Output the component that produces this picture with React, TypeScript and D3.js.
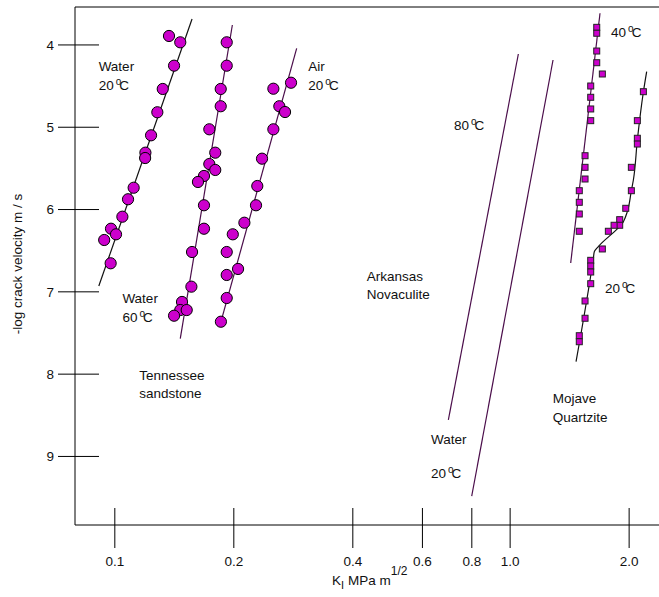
import React from 'react';
import * as d3 from 'd3';

// Tennessee sandstone (circles) [K, -log v]
const water20 = [
  [0.1371, 3.891], [0.1464, 3.968], [0.1412, 4.252], [0.1322, 4.535], [0.1281, 4.818],
  [0.1235, 5.098], [0.1195, 5.309], [0.1193, 5.374], [0.1116, 5.735], [0.108, 5.875],
  [0.1045, 6.087], [0.0978, 6.233], [0.1007, 6.301], [0.094, 6.37], [0.0976, 6.653],
];
const water60 = [
  [0.1919, 3.968], [0.1919, 4.252], [0.1853, 4.535], [0.1853, 4.745], [0.1734, 5.025],
  [0.1795, 5.309], [0.1734, 5.447], [0.1795, 5.519], [0.1681, 5.592], [0.1623, 5.665],
  [0.1681, 5.948], [0.1681, 6.233], [0.1568, 6.516], [0.1562, 6.937], [0.1479, 7.123],
  [0.1464, 7.221], [0.152, 7.221], [0.1412, 7.29],
];
const air20 = [
  [0.2791, 4.459], [0.2518, 4.532], [0.2607, 4.745], [0.2695, 4.815], [0.2518, 5.025],
  [0.2357, 5.382], [0.2293, 5.714], [0.2276, 5.948], [0.2127, 6.16], [0.1988, 6.301],
  [0.1919, 6.516], [0.205, 6.722], [0.1919, 6.795], [0.1919, 7.075], [0.1855, 7.363],
];

// Mojave quartzite (squares)
const mojave40 = [
  [1.656, 3.786], [1.656, 3.858], [1.656, 4.074], [1.656, 4.216], [1.711, 4.353],
  [1.599, 4.499], [1.599, 4.636], [1.599, 4.778], [1.599, 4.92], [1.547, 5.346],
  [1.547, 5.487], [1.547, 5.629], [1.496, 5.771], [1.496, 5.912], [1.496, 6.054],
  [1.496, 6.264],
];
const mojave20 = [
  [2.173, 4.568], [2.098, 4.92], [2.098, 5.134], [2.098, 5.204], [2.026, 5.487],
  [2.026, 5.771], [1.961, 5.985], [1.893, 6.123], [1.893, 6.191], [1.832, 6.191],
  [1.772, 6.264], [1.711, 6.479], [1.599, 6.617], [1.599, 6.686], [1.599, 6.759],
  [1.599, 6.901], [1.547, 7.111], [1.547, 7.321], [1.496, 7.533], [1.496, 7.606],
];
const mojave20Curve = [
  [2.215, 4.325], [2.173, 4.572], [2.098, 5.155], [2.05, 5.641], [2.026, 5.771],
  [1.979, 6.026], [1.934, 6.148], [1.671, 6.451], [1.633, 6.512], [1.624, 6.592],
  [1.468, 7.849],
];

// fitted straight lines
const fitLines = [
  { pts: [[0.1568, 3.684], [0.0911, 6.929]], color: '#111' },
  { pts: [[0.1983, 3.758], [0.1464, 7.569]], color: '#4a0d4a' },
  { pts: [[0.2884, 4.041], [0.1855, 7.366]], color: '#4a0d4a' },
  { pts: [[1.049, 4.11], [0.6978, 8.557]], color: '#4a0d4a' },
  { pts: [[1.284, 4.183], [0.7995, 9.481]], color: '#4a0d4a' },
  { pts: [[1.688, 3.615], [1.423, 6.649]], color: '#4a0d4a' },
];

const labels = [
  { k: 0.091, v: 4.317, lines: ['Water', '20|C'] },
  { k: 0.3086, v: 4.317, lines: ['Air', '20|C'] },
  { k: 0.1045, v: 7.136, lines: ['Water', '60|C'] },
  { k: 0.1153, v: 8.071, lines: ['Tennessee', 'sandstone'] },
  { k: 0.7212, v: 5.033, lines: ['80|C'] },
  { k: 0.4337, v: 6.868, lines: ['Arkansas', 'Novaculite'] },
  { k: 0.6308, v: 8.849, lines: ['Water'] },
  { k: 0.6308, v: 9.262, lines: ['20|C'] },
  { k: 1.282, v: 8.351, lines: ['Mojave', 'Quartzite'] },
  { k: 1.8, v: 3.903, lines: ['40|C'] },
  { k: 1.738, v: 7.014, lines: ['20|C'] },
];

const yTicks = [4, 5, 6, 7, 8, 9];
const xTicks = [0.1, 0.2, 0.4, 0.6, 0.8, 1.0, 2.0];
const xTickLabels = ['0.1', '0.2', '0.4', '0.6', '0.8', '1.0', '2.0'];

const W = 659, H = 597;
const left = 75, top = 7, bottom = 525;
const font = '"Liberation Sans", Arial, sans-serif';
const magenta = '#cc00cc';

function Label({ text, x, y }: { text: string; x: number; y: number }) {
  if (text.indexOf('|') < 0) return <text x={x} y={y}>{text}</text>;
  const [num, unit] = text.split('|');
  return (
    <text x={x} y={y}>
      {num}
      <tspan dx={2} dy={-5} fontSize={10}>o</tspan>
      <tspan dx={-2} dy={5}>{unit}</tspan>
    </text>
  );
}

export default function App() {
  const x = d3.scaleLog().domain([0.0793, 2.38]).range([left, W]);
  const y = d3.scaleLinear().domain([3.539, 9.833]).range([top, bottom]);

  const line = d3.line<number[]>().x(d => x(d[0])).y(d => y(d[1]));
  const curve = d3.line<number[]>().x(d => x(d[0])).y(d => y(d[1])).curve(d3.curveMonotoneY);

  return (
    <svg width={W} height={H} style={{ position: 'absolute', left: 0, top: 0, background: '#fff' }}
      fontFamily={font} fontSize={13.5} fill="#111">
      {/* frame */}
      <line x1={left} x2={W} y1={top} y2={top} stroke="#000" />
      <line x1={left} x2={left} y1={top} y2={bottom} stroke="#000" />
      <line x1={left} x2={W} y1={bottom} y2={bottom} stroke="#000" />

      {yTicks.map(t => (
        <g key={t}>
          <line x1={left - 17} x2={left + 24} y1={y(t)} y2={y(t)} stroke="#000" />
          <text x={left - 21} y={y(t)} dy="0.35em" textAnchor="end">{t}</text>
        </g>
      ))}
      {xTicks.map((t, i) => (
        <g key={t}>
          <line x1={x(t)} x2={x(t)} y1={bottom - 17} y2={bottom + 23} stroke="#000" />
          <text x={x(t)} y={566} textAnchor="middle">{xTickLabels[i]}</text>
        </g>
      ))}

      <text transform="translate(22,264) rotate(-90)" textAnchor="middle">-log crack velocity m / s</text>
      <text x={332} y={585}>
        K<tspan dy={4} fontSize={11}>I</tspan><tspan dx={4} dy={-4}>MPa m</tspan>
        <tspan dy={-10} fontSize={12}>1/2</tspan>
      </text>

      {fitLines.map((l, i) => (
        <path key={i} d={line(l.pts) || ''} fill="none" stroke={l.color} strokeWidth={1.2} />
      ))}
      <path d={curve(mojave20Curve) || ''} fill="none" stroke="#111" strokeWidth={1.2} />

      {[water20, water60, air20].map((s, i) => (
        <g key={i}>
          {s.map((d, j) => (
            <circle key={j} cx={x(d[0])} cy={y(d[1])} r={5.6} fill={magenta} stroke="#000" strokeWidth={1} />
          ))}
        </g>
      ))}
      {[mojave40, mojave20].map((s, i) => (
        <g key={i}>
          {s.map((d, j) => (
            <rect key={j} x={x(d[0]) - 3} y={y(d[1]) - 3} width={6} height={6} fill={magenta} stroke="#222" strokeWidth={1} />
          ))}
        </g>
      ))}

      {labels.map((l, i) => (
        <g key={i}>
          {l.lines.map((t, j) => (
            <Label key={j} text={t} x={x(l.k)} y={y(l.v) + j * 18.5} />
          ))}
        </g>
      ))}
    </svg>
  );
}
